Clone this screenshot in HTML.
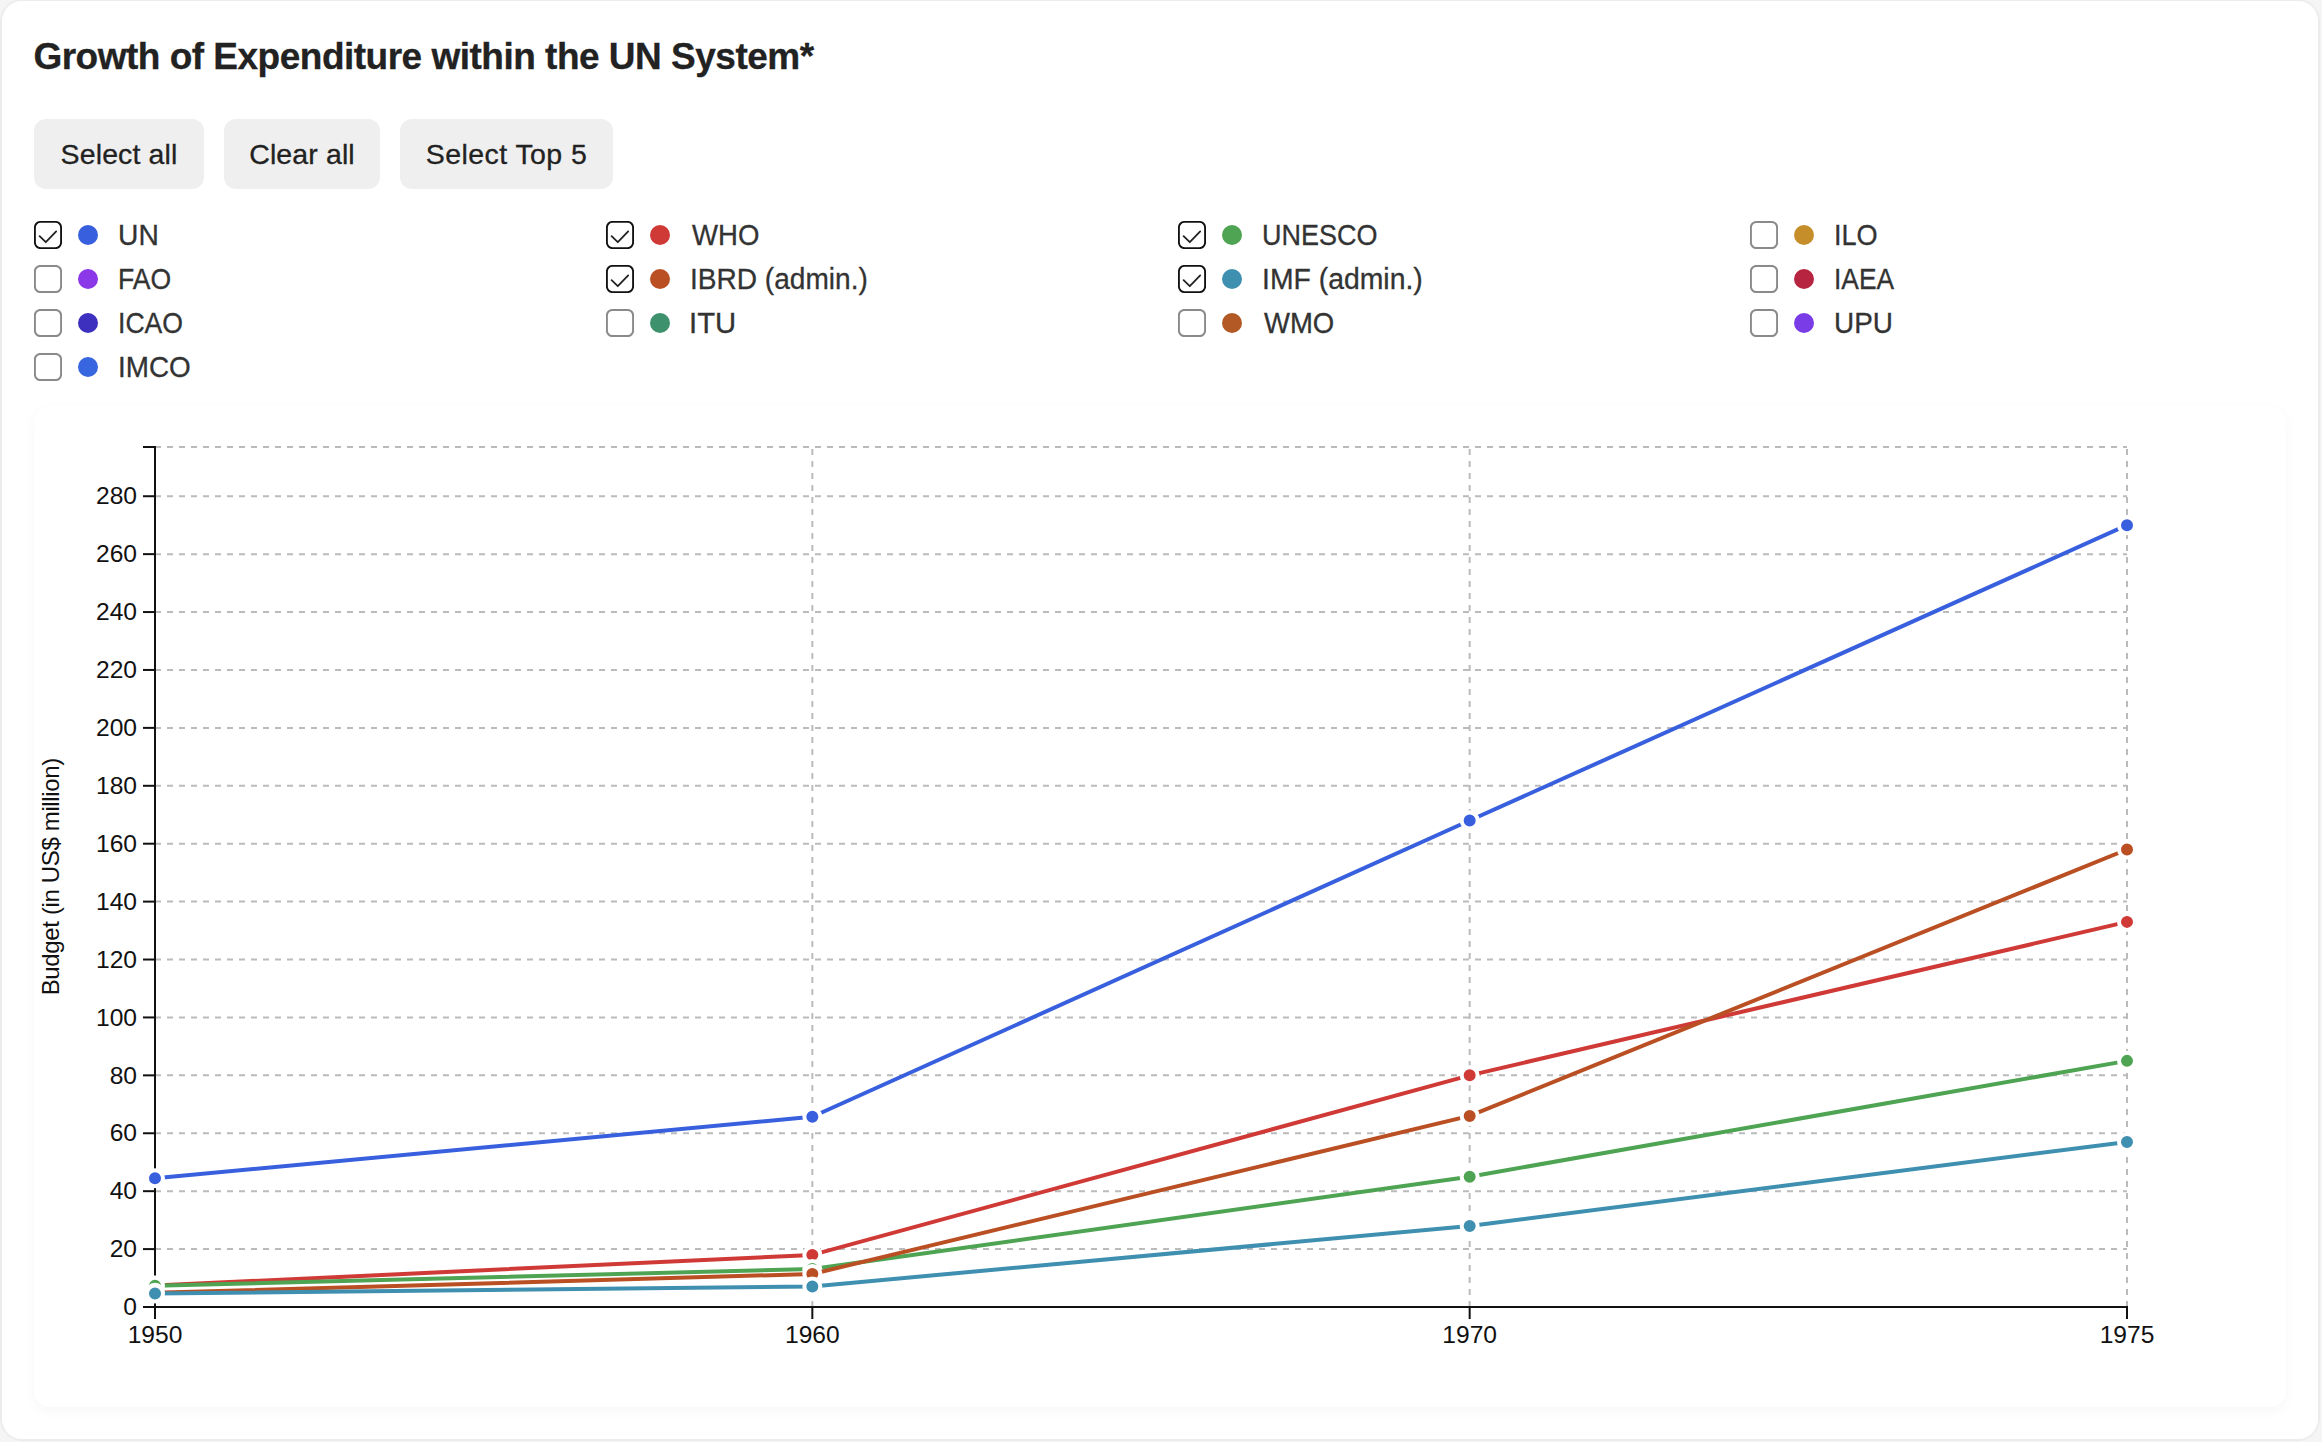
<!DOCTYPE html><html lang="en"><head><meta charset="utf-8"><title>Growth of Expenditure within the UN System</title><style>
html,body{margin:0;padding:0}
body{width:2322px;height:1442px;overflow:hidden;background:#f5f5f5;font-family:"Liberation Sans",sans-serif;color:#333;position:relative}
.card{position:absolute;left:0;top:-1px;width:2320px;height:1442px;box-sizing:border-box;border:2px solid #ececec;border-radius:22px;background:#fff}
h1{position:absolute;left:33.4px;top:34.5px;margin:0;font-size:37px;line-height:44px;font-weight:700;color:#222;white-space:nowrap;letter-spacing:-0.5px;-webkit-text-stroke:0.3px #222}
.btn{position:absolute;top:119px;height:70px;box-sizing:border-box;border-radius:12px;background:#efefef;color:#222;font-size:28.5px;line-height:71px;letter-spacing:0.12px;-webkit-text-stroke:0.3px #222;text-align:center;white-space:nowrap}
.row{position:absolute;height:44px;white-space:nowrap}
.cb{position:absolute;left:0;top:8px;width:28px;height:28px}
.cb svg{position:absolute;left:0;top:0}
.dot{position:absolute;left:44px;top:12px;width:20px;height:20px;border-radius:50%}
.lbl{position:absolute;left:84px;top:0px;font-size:29px;line-height:44px;color:#333;display:inline-block;transform-origin:0 50%;-webkit-text-stroke:0.3px #333}
.chart{position:absolute;left:34px;top:406px;width:2252px;height:1001px;border-radius:16px;background:#fff;box-shadow:0 4px 14px rgba(0,0,0,0.035)}
svg.plot{position:absolute;left:0;top:0}
svg text{font-family:"Liberation Sans",sans-serif;font-size:24.6px;fill:#111}
</style></head><body>
<div class="card"></div>
<h1>Growth of Expenditure within the UN System*</h1>
<div class="btn" style="left:34px;width:170px;letter-spacing:0.12px">Select all</div>
<div class="btn" style="left:224px;width:156px;letter-spacing:0.12px">Clear all</div>
<div class="btn" style="left:400px;width:213px;letter-spacing:0.44px">Select Top 5</div>
<div class="row" style="left:34px;top:213px"><span class="cb"><svg width="28" height="28" viewBox="0 0 28 28"><rect x="0.9" y="0.9" width="26.2" height="26.2" rx="5.6" fill="#fff" stroke="#111" stroke-width="1.9"/><path d="M5.6 15.2 L11.8 21.2 L22.2 10.4" fill="none" stroke="#222" stroke-width="1.8" stroke-linecap="round" stroke-linejoin="round"/></svg></span><span class="dot" style="background:#3860de"></span><span class="lbl" style="left:84.0px;transform:scaleX(0.9740)">UN</span></div>
<div class="row" style="left:606px;top:213px"><span class="cb"><svg width="28" height="28" viewBox="0 0 28 28"><rect x="0.9" y="0.9" width="26.2" height="26.2" rx="5.6" fill="#fff" stroke="#111" stroke-width="1.9"/><path d="M5.6 15.2 L11.8 21.2 L22.2 10.4" fill="none" stroke="#222" stroke-width="1.8" stroke-linecap="round" stroke-linejoin="round"/></svg></span><span class="dot" style="background:#cf3a36"></span><span class="lbl" style="left:85.6px;transform:scaleX(0.9500)">WHO</span></div>
<div class="row" style="left:1178px;top:213px"><span class="cb"><svg width="28" height="28" viewBox="0 0 28 28"><rect x="0.9" y="0.9" width="26.2" height="26.2" rx="5.6" fill="#fff" stroke="#111" stroke-width="1.9"/><path d="M5.6 15.2 L11.8 21.2 L22.2 10.4" fill="none" stroke="#222" stroke-width="1.8" stroke-linecap="round" stroke-linejoin="round"/></svg></span><span class="dot" style="background:#4ea453"></span><span class="lbl" style="left:83.7px;transform:scaleX(0.9310)">UNESCO</span></div>
<div class="row" style="left:1750px;top:213px"><span class="cb"><svg width="28" height="28" viewBox="0 0 28 28"><rect x="0.9" y="0.9" width="26.2" height="26.2" rx="5.6" fill="#fff" stroke="#8a8a8a" stroke-width="2"/></svg></span><span class="dot" style="background:#c58e2b"></span><span class="lbl" style="left:83.6px;transform:scaleX(0.9350)">ILO</span></div>
<div class="row" style="left:34px;top:257px"><span class="cb"><svg width="28" height="28" viewBox="0 0 28 28"><rect x="0.9" y="0.9" width="26.2" height="26.2" rx="5.6" fill="#fff" stroke="#8a8a8a" stroke-width="2"/></svg></span><span class="dot" style="background:#8a38e8"></span><span class="lbl" style="left:84.0px;transform:scaleX(0.9150)">FAO</span></div>
<div class="row" style="left:606px;top:257px"><span class="cb"><svg width="28" height="28" viewBox="0 0 28 28"><rect x="0.9" y="0.9" width="26.2" height="26.2" rx="5.6" fill="#fff" stroke="#111" stroke-width="1.9"/><path d="M5.6 15.2 L11.8 21.2 L22.2 10.4" fill="none" stroke="#222" stroke-width="1.8" stroke-linecap="round" stroke-linejoin="round"/></svg></span><span class="dot" style="background:#b94f22"></span><span class="lbl" style="left:84.0px;transform:scaleX(0.9680)">IBRD (admin.)</span></div>
<div class="row" style="left:1178px;top:257px"><span class="cb"><svg width="28" height="28" viewBox="0 0 28 28"><rect x="0.9" y="0.9" width="26.2" height="26.2" rx="5.6" fill="#fff" stroke="#111" stroke-width="1.9"/><path d="M5.6 15.2 L11.8 21.2 L22.2 10.4" fill="none" stroke="#222" stroke-width="1.8" stroke-linecap="round" stroke-linejoin="round"/></svg></span><span class="dot" style="background:#3f8fb0"></span><span class="lbl" style="left:84.0px;transform:scaleX(0.9780)">IMF (admin.)</span></div>
<div class="row" style="left:1750px;top:257px"><span class="cb"><svg width="28" height="28" viewBox="0 0 28 28"><rect x="0.9" y="0.9" width="26.2" height="26.2" rx="5.6" fill="#fff" stroke="#8a8a8a" stroke-width="2"/></svg></span><span class="dot" style="background:#b7243f"></span><span class="lbl" style="left:83.6px;transform:scaleX(0.9080)">IAEA</span></div>
<div class="row" style="left:34px;top:301px"><span class="cb"><svg width="28" height="28" viewBox="0 0 28 28"><rect x="0.9" y="0.9" width="26.2" height="26.2" rx="5.6" fill="#fff" stroke="#8a8a8a" stroke-width="2"/></svg></span><span class="dot" style="background:#3d30be"></span><span class="lbl" style="left:84.0px;transform:scaleX(0.9170)">ICAO</span></div>
<div class="row" style="left:606px;top:301px"><span class="cb"><svg width="28" height="28" viewBox="0 0 28 28"><rect x="0.9" y="0.9" width="26.2" height="26.2" rx="5.6" fill="#fff" stroke="#8a8a8a" stroke-width="2"/></svg></span><span class="dot" style="background:#3e916d"></span><span class="lbl" style="left:83.0px;transform:scaleX(1.0100)">ITU</span></div>
<div class="row" style="left:1178px;top:301px"><span class="cb"><svg width="28" height="28" viewBox="0 0 28 28"><rect x="0.9" y="0.9" width="26.2" height="26.2" rx="5.6" fill="#fff" stroke="#8a8a8a" stroke-width="2"/></svg></span><span class="dot" style="background:#b25925"></span><span class="lbl" style="left:85.6px;transform:scaleX(0.9480)">WMO</span></div>
<div class="row" style="left:1750px;top:301px"><span class="cb"><svg width="28" height="28" viewBox="0 0 28 28"><rect x="0.9" y="0.9" width="26.2" height="26.2" rx="5.6" fill="#fff" stroke="#8a8a8a" stroke-width="2"/></svg></span><span class="dot" style="background:#7a3ce6"></span><span class="lbl" style="left:83.6px;transform:scaleX(0.9620)">UPU</span></div>
<div class="row" style="left:34px;top:345px"><span class="cb"><svg width="28" height="28" viewBox="0 0 28 28"><rect x="0.9" y="0.9" width="26.2" height="26.2" rx="5.6" fill="#fff" stroke="#8a8a8a" stroke-width="2"/></svg></span><span class="dot" style="background:#3766e0"></span><span class="lbl" style="left:84.0px;transform:scaleX(0.9610)">IMCO</span></div>
<div class="chart"></div>
<svg class="plot" width="2322" height="1442" viewBox="0 0 2322 1442"><g stroke="#bbb" stroke-width="2" stroke-dasharray="6 6" fill="none"><path d="M155 1307.00H2127"/><path d="M155 1249.09H2127"/><path d="M155 1191.18H2127"/><path d="M155 1133.26H2127"/><path d="M155 1075.35H2127"/><path d="M155 1017.44H2127"/><path d="M155 959.53H2127"/><path d="M155 901.61H2127"/><path d="M155 843.70H2127"/><path d="M155 785.79H2127"/><path d="M155 727.88H2127"/><path d="M155 669.96H2127"/><path d="M155 612.05H2127"/><path d="M155 554.14H2127"/><path d="M155 496.23H2127"/><path d="M155 447H2127"/><path d="M155.00 1307V447"/><path d="M812.33 1307V447"/><path d="M1469.67 1307V447"/><path d="M2127.00 1307V447"/></g><g stroke="#111" stroke-width="2" fill="none"><path d="M143 447H155V1307H143"/><path d="M143 1307.00H155"/><path d="M143 1249.09H155"/><path d="M143 1191.18H155"/><path d="M143 1133.26H155"/><path d="M143 1075.35H155"/><path d="M143 1017.44H155"/><path d="M143 959.53H155"/><path d="M143 901.61H155"/><path d="M143 843.70H155"/><path d="M143 785.79H155"/><path d="M143 727.88H155"/><path d="M143 669.96H155"/><path d="M143 612.05H155"/><path d="M143 554.14H155"/><path d="M143 496.23H155"/><path d="M155 1319V1307H2127V1319"/><path d="M155.00 1307V1319"/><path d="M812.33 1307V1319"/><path d="M1469.67 1307V1319"/><path d="M2127.00 1307V1319"/></g><g text-anchor="end"><text x="137" y="1315.20">0</text><text x="137" y="1257.29">20</text><text x="137" y="1199.38">40</text><text x="137" y="1141.46">60</text><text x="137" y="1083.55">80</text><text x="137" y="1025.64">100</text><text x="137" y="967.73">120</text><text x="137" y="909.81">140</text><text x="137" y="851.90">160</text><text x="137" y="793.99">180</text><text x="137" y="736.08">200</text><text x="137" y="678.16">220</text><text x="137" y="620.25">240</text><text x="137" y="562.34">260</text><text x="137" y="504.43">280</text></g><g text-anchor="middle"><text x="155.00" y="1342.5">1950</text><text x="812.33" y="1342.5">1960</text><text x="1469.67" y="1342.5">1970</text><text x="2127.00" y="1342.5">1975</text></g><text text-anchor="middle" style="font-size:24px;letter-spacing:-0.36px" transform="translate(59 876.7) rotate(-90)">Budget (in US$ million)</text><path d="M155.00 1178.14 L812.33 1116.76 L1469.67 820.54 L2127.00 525.18" fill="none" stroke="#3860de" stroke-width="4" stroke-linejoin="round" stroke-linecap="round"/><circle cx="155.00" cy="1178.14" r="8" fill="#3860de" stroke="#fff" stroke-width="4"/><circle cx="812.33" cy="1116.76" r="8" fill="#3860de" stroke="#fff" stroke-width="4"/><circle cx="1469.67" cy="820.54" r="8" fill="#3860de" stroke="#fff" stroke-width="4"/><circle cx="2127.00" cy="525.18" r="8" fill="#3860de" stroke="#fff" stroke-width="4"/><path d="M155.00 1285.57 L812.33 1254.88 L1469.67 1075.35 L2127.00 921.88" fill="none" stroke="#cf3a36" stroke-width="4" stroke-linejoin="round" stroke-linecap="round"/><circle cx="155.00" cy="1285.57" r="8" fill="#cf3a36" stroke="#fff" stroke-width="4"/><circle cx="812.33" cy="1254.88" r="8" fill="#cf3a36" stroke="#fff" stroke-width="4"/><circle cx="1469.67" cy="1075.35" r="8" fill="#cf3a36" stroke="#fff" stroke-width="4"/><circle cx="2127.00" cy="921.88" r="8" fill="#cf3a36" stroke="#fff" stroke-width="4"/><path d="M155.00 1285.86 L812.33 1269.07 L1469.67 1176.70 L2127.00 1060.87" fill="none" stroke="#4ea453" stroke-width="4" stroke-linejoin="round" stroke-linecap="round"/><circle cx="155.00" cy="1285.86" r="8" fill="#4ea453" stroke="#fff" stroke-width="4"/><circle cx="812.33" cy="1269.07" r="8" fill="#4ea453" stroke="#fff" stroke-width="4"/><circle cx="1469.67" cy="1176.70" r="8" fill="#4ea453" stroke="#fff" stroke-width="4"/><circle cx="2127.00" cy="1060.87" r="8" fill="#4ea453" stroke="#fff" stroke-width="4"/><path d="M155.00 1292.81 L812.33 1273.99 L1469.67 1115.89 L2127.00 849.49" fill="none" stroke="#b94f22" stroke-width="4" stroke-linejoin="round" stroke-linecap="round"/><circle cx="155.00" cy="1292.81" r="8" fill="#b94f22" stroke="#fff" stroke-width="4"/><circle cx="812.33" cy="1273.99" r="8" fill="#b94f22" stroke="#fff" stroke-width="4"/><circle cx="1469.67" cy="1115.89" r="8" fill="#b94f22" stroke="#fff" stroke-width="4"/><circle cx="2127.00" cy="849.49" r="8" fill="#b94f22" stroke="#fff" stroke-width="4"/><path d="M155.00 1293.54 L812.33 1286.44 L1469.67 1225.92 L2127.00 1141.95" fill="none" stroke="#3f8fb0" stroke-width="4" stroke-linejoin="round" stroke-linecap="round"/><circle cx="155.00" cy="1293.54" r="8" fill="#3f8fb0" stroke="#fff" stroke-width="4"/><circle cx="812.33" cy="1286.44" r="8" fill="#3f8fb0" stroke="#fff" stroke-width="4"/><circle cx="1469.67" cy="1225.92" r="8" fill="#3f8fb0" stroke="#fff" stroke-width="4"/><circle cx="2127.00" cy="1141.95" r="8" fill="#3f8fb0" stroke="#fff" stroke-width="4"/></svg>
</body></html>
